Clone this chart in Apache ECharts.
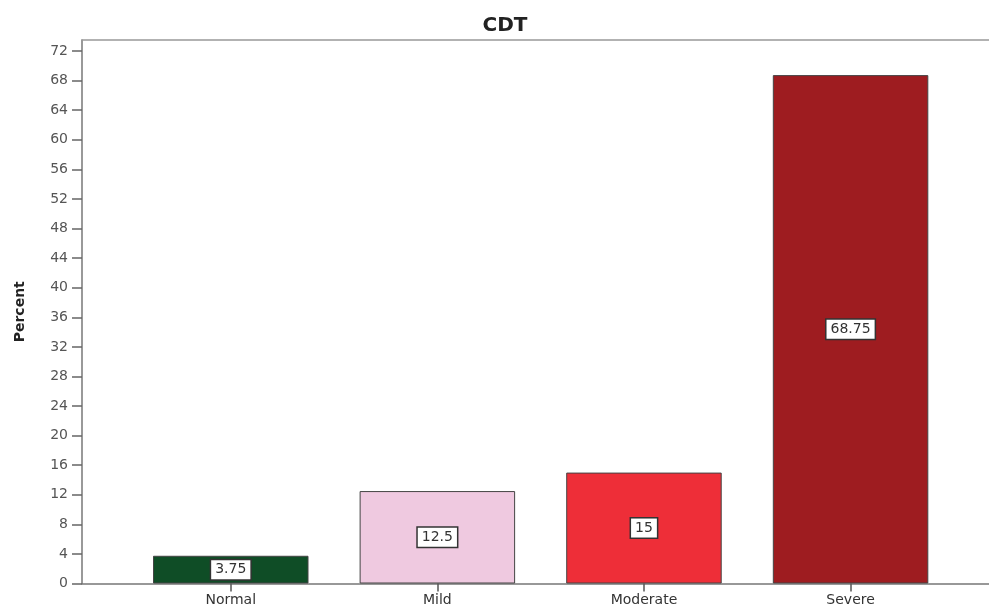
<!DOCTYPE html>
<html>
<head>
<meta charset="utf-8">
<script src="https://cdn.jsdelivr.net/npm/echarts@6/dist/echarts.min.js"></script>
<style>html,body{margin:0;padding:0;background:#fff}#c{width:989px;height:608px}</style>
</head>
<body>
<div id="c"></div>
<script>
var categories = ['Normal', 'Mild', 'Moderate', 'Severe'];
var values = [3.75, 12.5, 15, 68.75];
var barColors = ['#0f4d26', '#efc9e0', '#ee2e38', '#9e1c20'];
var yTicks = [0, 4, 8, 12, 16, 20, 24, 28, 32, 36, 40, 44, 48, 52, 56, 60, 64, 68, 72];
var xPositions = categories.map(function (c, i) { return i + 1; });

var font = 'DejaVu Sans';
var chart = echarts.init(document.getElementById('c'));
chart.setOption({
  animation: false,
  backgroundColor: '#fff',
  title: {
    text: 'CDT', left: 500, top: 11, textAlign: 'center',
    textStyle: { fontFamily: font, fontWeight: 'bold', fontSize: 20, color: '#222' }
  },
  grid: { left: 82, right: 0, top: 40, bottom: 24.5, containLabel: false },
  xAxis: [{
    type: 'value', min: 0.28, max: 4.67, position: 'bottom',
    splitLine: { show: false },
    axisLine: { show: true, lineStyle: { color: '#777', width: 1.5 } },
    axisTick: { show: true, length: 8, customValues: xPositions, lineStyle: { color: '#555', width: 1.5 } },
    axisLabel: {
      customValues: xPositions, margin: 10,
      formatter: function (v) { return categories[Math.round(v) - 1] || ''; },
      fontFamily: font, fontSize: 14, color: '#333'
    }
  }, {
    type: 'value', min: 0.28, max: 4.67, position: 'top',
    splitLine: { show: false },
    axisLine: { show: true, lineStyle: { color: '#999', width: 1.5 } },
    axisTick: { show: false }, axisLabel: { show: false }
  }],
  yAxis: {
    type: 'value', min: 0, max: 73.5,
    name: 'Percent', nameLocation: 'middle', nameGap: 55,
    nameTextStyle: { fontFamily: font, fontWeight: 'bold', fontSize: 14, color: '#222' },
    splitLine: { show: false },
    axisLine: { show: true, lineStyle: { color: '#777', width: 1.5 } },
    axisTick: { show: true, length: 10, customValues: yTicks, lineStyle: { color: '#666', width: 1.5 } },
    axisLabel: { customValues: yTicks, margin: 14, fontFamily: font, fontSize: 14, color: '#555' }
  },
  series: [{
    type: 'bar',
    barWidth: 155.5,
    data: values.map(function (v, i) {
      return { value: [xPositions[i], v], itemStyle: { color: barColors[i] } };
    }),
    itemStyle: { borderColor: '#444', borderWidth: 1 },
    label: {
      show: true, position: 'inside',
      formatter: function (p) { return String(p.value[1]); },
      fontFamily: font, fontSize: 14, color: '#333',
      backgroundColor: '#fff', borderColor: '#333', borderWidth: 1.5,
      padding: [3, 4, 2, 4]
    }
  }]
});
</script>
</body>
</html>
